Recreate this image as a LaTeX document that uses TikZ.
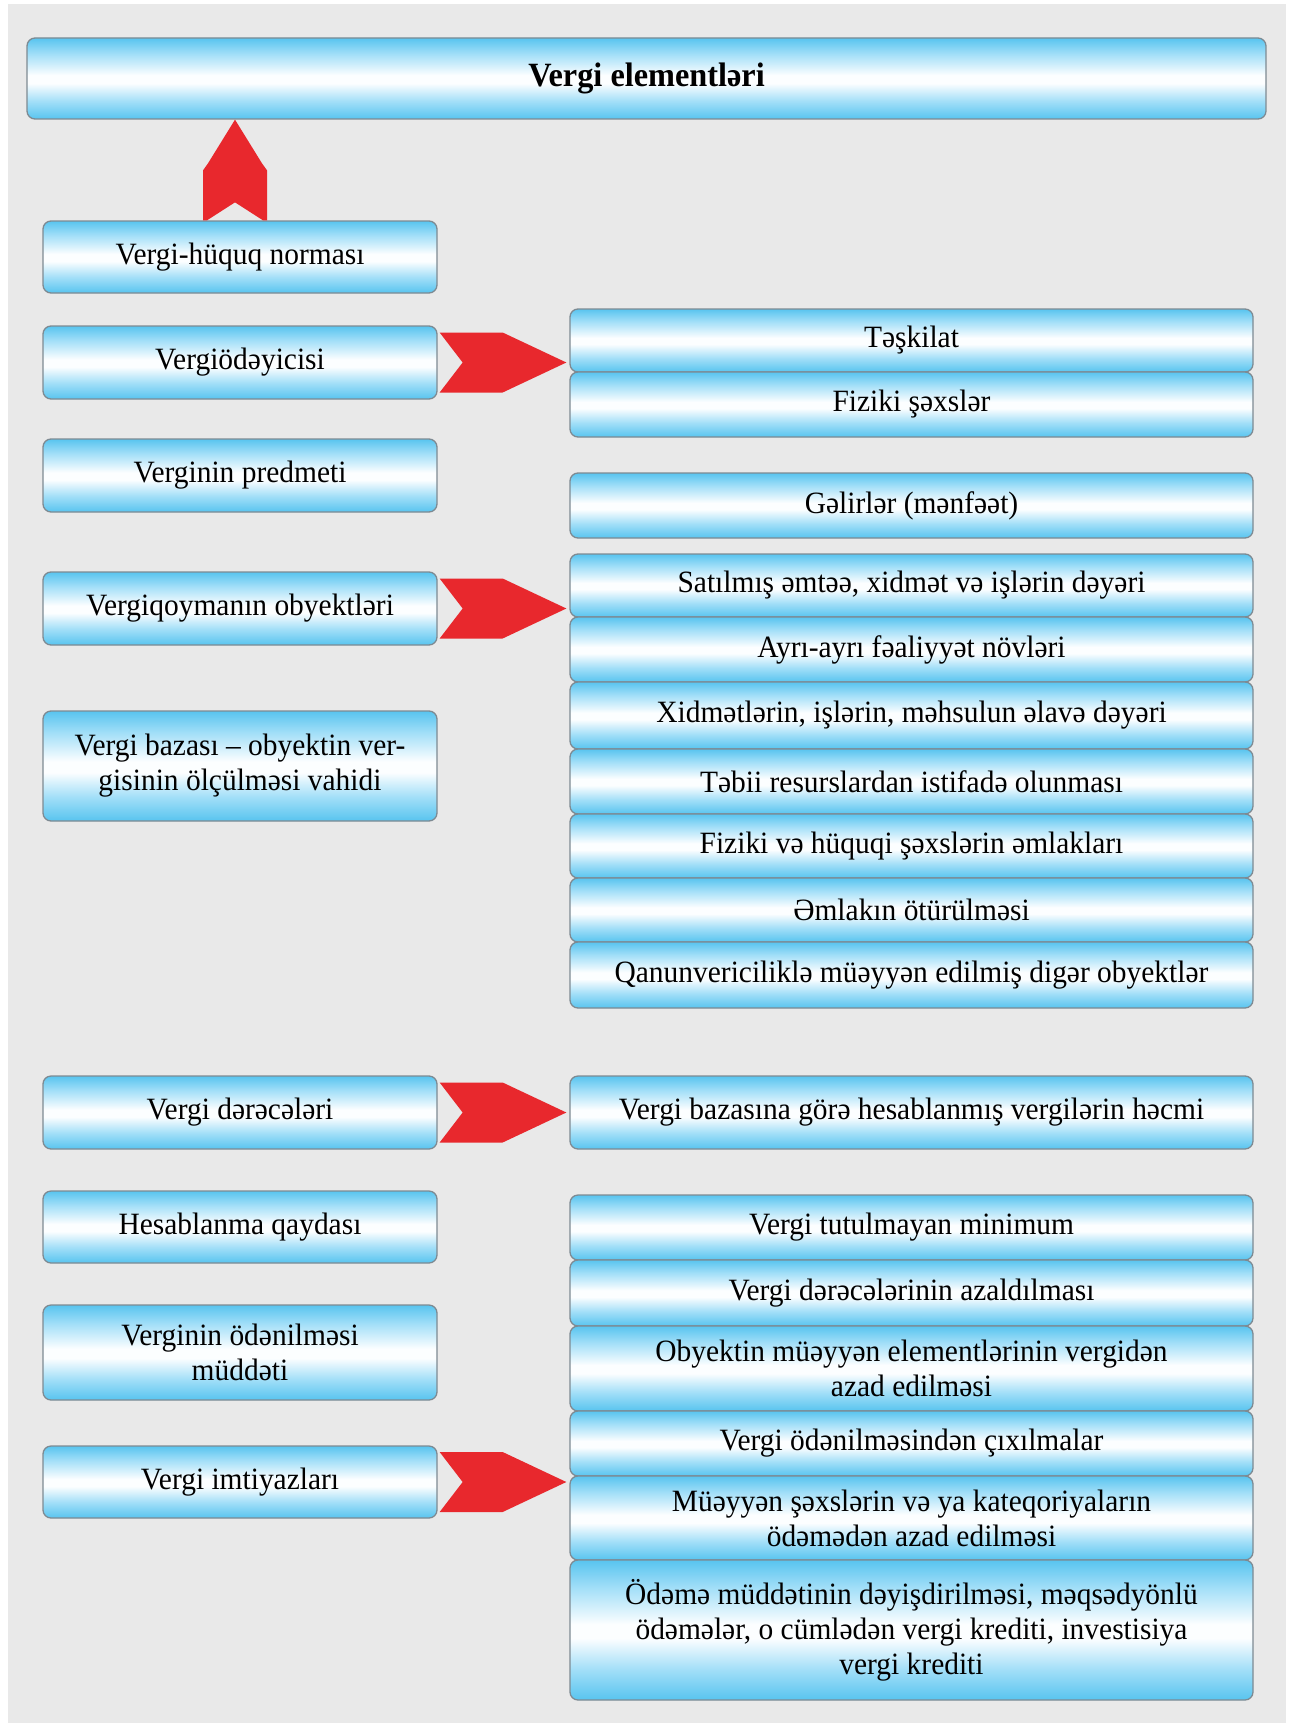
\documentclass[tikz,border=0pt]{standalone}
\usepackage{fontspec}
\setmainfont[FakeStretch=0.95]{Liberation Serif}
\usetikzlibrary{calc}
\definecolor{panel}{HTML}{E9E9E9}
\definecolor{boxblue}{HTML}{58C4EF}
\definecolor{boxlight}{HTML}{A3DFF8}
\definecolor{boxwhite}{HTML}{FCFEFF}
\definecolor{boxborder}{HTML}{7E8A92}
\definecolor{arrowred}{HTML}{E8282D}
\pgfdeclareverticalshading{glossy}{100bp}{color(0bp)=(boxblue); color(25bp)=(boxblue); color(36bp)=(boxlight); color(47bp)=(boxwhite); color(52bp)=(boxwhite); color(65bp)=(boxlight); color(75bp)=(boxblue); color(100bp)=(boxblue)}
\tikzset{
  gbox/.style={draw=boxborder, line width=1.3pt, rounded corners=8pt, shading=glossy,
    font=\fontsize{31}{35}\selectfont, align=center, inner sep=0pt, text=black},
  lbox/.style={gbox, minimum width=394pt},
  rbox/.style={gbox, minimum width=683pt},
  redfill/.style={fill=arrowred, draw=none}
}
\newcommand{\redchevron}[2]{%
  \fill[redfill] ($(#1.east)+(2,-30)$) -- ($(#1.east)+(65,-30)$) -- ($(#2.west|-#1.east)+(-3,0)$)
    -- ($(#1.east)+(65,30)$) -- ($(#1.east)+(2,30)$) -- ($(#1.east)+(25,0)$) -- cycle;}
\begin{document}
\begin{tikzpicture}[x=1pt,y=-1pt]
\useasboundingbox (0,0) rectangle (1295,1723);
\fill[white] (0,0) rectangle (1295,1723);
\fill[panel] (8,4) rectangle (1286,1723);

% title
\node[gbox, minimum width=1239pt, minimum height=81pt, font=\fontsize{34}{38}\selectfont\bfseries] (title) at (646.5,78.5) {Vergi elementləri};

% left column
\node[lbox, minimum height=72pt] (v1) at (240,257) {Vergi-hüquq norması};
\node[lbox, minimum height=73pt] (v2) at (240,362.5) {Vergiödəyicisi};
\node[lbox, minimum height=73pt] (v3) at (240,475.5) {Verginin predmeti};
\node[lbox, minimum height=73pt] (v4) at (240,608.5) {Vergiqoymanın obyektləri};
\node[lbox, minimum height=110pt] (v5) at (240,766) {Vergi bazası -- obyektin ver-\\gisinin ölçülməsi vahidi};
\node[lbox, minimum height=73pt] (v6) at (240,1112.5) {Vergi dərəcələri};
\node[lbox, minimum height=72pt] (v7) at (240,1227) {Hesablanma qaydası};
\node[lbox, minimum height=95pt] (v8) at (240,1352.5) {Verginin ödənilməsi\\müddəti};
\node[lbox, minimum height=72pt] (v9) at (240,1482) {Vergi imtiyazları};

% right column
\node[rbox, minimum height=63pt] (r1) at (911.5,340.5) {Təşkilat};
\node[rbox, minimum height=65pt] (r2) at (911.5,404.5) {Fiziki şəxslər};
\node[rbox, minimum height=65pt] (r3) at (911.5,505.5) {Gəlirlər (mənfəət)};
\node[rbox, minimum height=63pt] (r4) at (911.5,585.5) {Satılmış əmtəə, xidmət və işlərin dəyəri};
\node[rbox, minimum height=65pt] (r5) at (911.5,649.5) {Ayrı-ayrı fəaliyyət növləri};
\node[rbox, minimum height=67pt] (r6) at (911.5,715.5) {Xidmətlərin, işlərin, məhsulun əlavə dəyəri};
\node[rbox, minimum height=65pt] (r7) at (911.5,781.5) {Təbii resurslardan istifadə olunması};
\node[rbox, minimum height=64pt] (r8) at (911.5,846) {Fiziki və hüquqi şəxslərin əmlakları};
\node[rbox, minimum height=64pt] (r9) at (911.5,910) {Əmlakın ötürülməsi};
\node[rbox, minimum height=66pt] (r10) at (911.5,975) {Qanunvericiliklə müəyyən edilmiş digər obyektlər};
\node[rbox, minimum height=73pt] (r11) at (911.5,1112.5) {Vergi bazasına görə hesablanmış vergilərin həcmi};
\node[rbox, minimum height=65pt] (r12) at (911.5,1227.5) {Vergi tutulmayan minimum};
\node[rbox, minimum height=66pt] (r13) at (911.5,1293) {Vergi dərəcələrinin azaldılması};
\node[rbox, minimum height=85pt] (r14) at (911.5,1368.5) {Obyektin müəyyən elementlərinin vergidən\\azad edilməsi};
\node[rbox, minimum height=65pt] (r15) at (911.5,1443.5) {Vergi ödənilməsindən çıxılmalar};
\node[rbox, minimum height=84pt] (r16) at (911.5,1518) {Müəyyən şəxslərin və ya kateqoriyaların\\ödəmədən azad edilməsi};
\node[rbox, minimum height=140pt] (r17) at (911.5,1630) {Ödəmə müddətinin dəyişdirilməsi, məqsədyönlü\\ödəmələr, o cümlədən vergi krediti, investisiya\\vergi krediti};

% up arrow
\coordinate (abase) at ($(v1.north)+(-5,0)$);
\coordinate (atip) at (abase |- title.south);
\fill[redfill] ($(abase)+(-32,0)$) -- ($(abase)+(-32,-50)$) -- ($(abase)+(-27,-57)$) -- (atip)
  -- ($(abase)+(27,-57)$) -- ($(abase)+(32,-50)$) -- ($(abase)+(32,0)$) -- ($(abase)+(28,0)$)
  -- ($(abase)+(0,-18)$) -- ($(abase)+(-28,0)$) -- cycle;

% chevrons
\redchevron{v2}{r1}
\redchevron{v4}{r4}
\redchevron{v6}{r11}
\redchevron{v9}{r15}
\end{tikzpicture}
\end{document}
